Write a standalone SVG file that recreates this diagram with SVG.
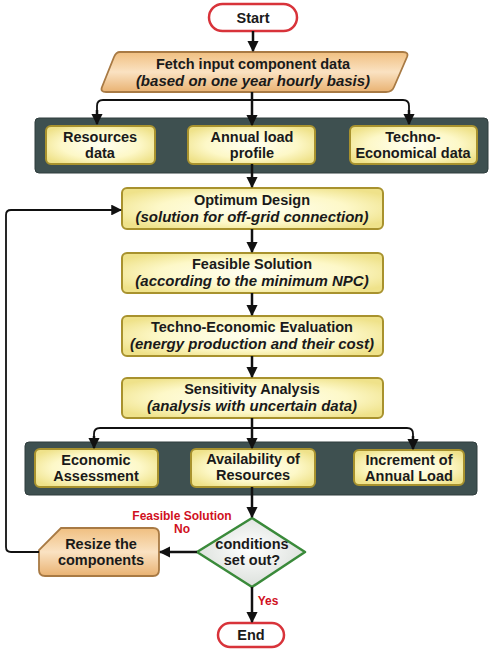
<svg xmlns="http://www.w3.org/2000/svg" width="491" height="651" viewBox="0 0 491 651">
<defs>
<radialGradient id="yel" cx="50%" cy="50%" r="60%">
<stop offset="0" stop-color="#fffff2"/><stop offset="0.6" stop-color="#fdf8c8"/><stop offset="1" stop-color="#efe28a"/>
</radialGradient>
<linearGradient id="org" x1="0" y1="0" x2="0" y2="1">
<stop offset="0" stop-color="#f0bf80"/><stop offset="0.5" stop-color="#fae2c2"/><stop offset="1" stop-color="#e9b272"/>
</linearGradient>
<radialGradient id="grn" cx="50%" cy="45%" r="60%">
<stop offset="0" stop-color="#ffffff"/><stop offset="1" stop-color="#d8ddd8"/>
</radialGradient>
<marker id="ah" viewBox="0 0 10 10" refX="9" refY="5" markerWidth="4.5" markerHeight="4.5" orient="auto" markerUnits="strokeWidth">
<path d="M0,0 L10,5 L0,10 z" fill="#111"/>
</marker>
<marker id="ahs" viewBox="0 0 10 10" refX="9" refY="5" markerWidth="6" markerHeight="6" orient="auto" markerUnits="strokeWidth">
<path d="M0,0 L10,5 L0,10 z" fill="#111"/>
</marker>
</defs>
<style>
.t{font-family:"Liberation Sans",Arial,sans-serif;font-weight:bold;font-size:14.5px;fill:#1a1a1a;text-anchor:middle}
.i{font-family:"Liberation Sans",Arial,sans-serif;font-weight:bold;font-style:italic;font-size:15px;fill:#1a1a1a;text-anchor:middle}
.r{font-family:"Liberation Sans",Arial,sans-serif;font-weight:bold;font-size:12px;fill:#d0101e;text-anchor:middle}
.box{fill:url(#yel);stroke:#a8922e;stroke-width:2}
.panel{fill:#3e5050;stroke:#2e3c3c;stroke-width:1}
.term{fill:#fff;stroke:#d8333a;stroke-width:2.5}
.c{fill:none;stroke:#111;stroke-width:2.5}
.cs{fill:none;stroke:#111;stroke-width:1.8}
</style>
<rect width="491" height="651" fill="#fff"/>

<g id="start"><rect class="term" x="209" y="4" width="88" height="27" rx="13.5"/><text class="t" x="253" y="23">Start</text></g>

<g id="fetch"><path d="M120,52 L403,52 Q409,52 407,57 L394,87 Q392,92 386,92 L106,92 Q100,92 102,87 L114,57 Q116,52 120,52 Z" fill="url(#org)" stroke="#a87a44" stroke-width="1.8"/>
<text class="t" x="253" y="69">Fetch input component data</text><text class="i" x="253" y="86">(based on one year hourly basis)</text></g>

<g id="panel1"><rect class="panel" x="35" y="118" width="453" height="55" rx="4"/></g>
<g id="resources"><rect class="box" x="46" y="126" width="109" height="38" rx="5"/><text class="t" x="100" y="142">Resources</text><text class="t" x="100" y="158">data</text></g>
<g id="annual"><rect class="box" x="188" y="126" width="127" height="38" rx="5"/><text class="t" x="252" y="142">Annual load</text><text class="t" x="252" y="158">profile</text></g>
<g id="techno"><rect class="box" x="350" y="126" width="127" height="38" rx="5"/><text class="t" x="413" y="142">Techno-</text><text class="t" x="413" y="158">Economical data</text></g>

<g id="optimum"><rect class="box" x="122" y="188" width="261" height="41" rx="5"/><text class="t" x="252" y="205">Optimum Design</text><text class="i" x="252" y="222">(solution for off-grid connection)</text></g>
<g id="feasible"><rect class="box" x="122" y="253" width="261" height="40" rx="5"/><text class="t" x="252" y="269">Feasible Solution</text><text class="i" x="252" y="286">(according to the minimum NPC)</text></g>
<g id="evaluation"><rect class="box" x="122" y="316" width="261" height="40" rx="5"/><text class="t" x="252" y="332">Techno-Economic Evaluation</text><text class="i" x="252" y="349">(energy production and their cost)</text></g>
<g id="sensitivity"><rect class="box" x="122" y="378" width="261" height="40" rx="5"/><text class="t" x="252" y="394">Sensitivity Analysis</text><text class="i" x="252" y="411">(analysis with uncertain data)</text></g>

<g id="panel2"><rect class="panel" x="25" y="442" width="452" height="53" rx="4"/></g>
<g id="economic"><rect class="box" x="35" y="449" width="123" height="38" rx="5"/><text class="t" x="96" y="465">Economic</text><text class="t" x="96" y="481">Assessment</text></g>
<g id="availability"><rect class="box" x="191" y="449" width="124" height="38" rx="5"/><text class="t" x="253" y="464">Availability of</text><text class="t" x="253" y="480">Resources</text></g>
<g id="increment"><rect class="box" x="354" y="450" width="110" height="35" rx="5"/><text class="t" x="409" y="465">Increment of</text><text class="t" x="409" y="481">Annual Load</text></g>

<g id="decision"><path d="M252,518 L305,552 L252,587 L197,552 Z" fill="url(#grn)" stroke="#3a8a3a" stroke-width="2.5" stroke-linejoin="round"/><text class="t" x="252" y="549">conditions</text><text class="t" x="252" y="565">set out?</text></g>

<g id="resize"><path d="M61,528 L153,528 Q159,528 159,534 L159,570 Q159,576 153,576 L45,576 Q39,576 39,570 L39,550 Z" fill="url(#org)" stroke="#a87a44" stroke-width="1.8"/><text class="t" x="101" y="549">Resize the</text><text class="t" x="101" y="565">components</text></g>

<g id="end"><rect class="term" x="218" y="623" width="66" height="24" rx="12"/><text class="t" x="251" y="640">End</text></g>

<g id="connectors">
<path class="c" d="M253,31 L253,51" marker-end="url(#ah)"/>
<path class="c" d="M252,92 L252,125" marker-end="url(#ah)"/>
<path class="cs" d="M97,124 L97,106 Q97,100 103,100 L403,100 Q409,100 409,106 L409,124" />
<path class="c" d="M97,110 L97,124" marker-end="url(#ah)"/>
<path class="c" d="M409,110 L409,124" marker-end="url(#ah)"/>
<path class="c" d="M252,164 L252,187" marker-end="url(#ah)"/>
<path class="c" d="M252,229 L252,252" marker-end="url(#ah)"/>
<path class="c" d="M252,293 L252,315" marker-end="url(#ah)"/>
<path class="c" d="M252,356 L252,377" marker-end="url(#ah)"/>
<path class="c" d="M252,418 L252,448" marker-end="url(#ah)"/>
<path class="cs" d="M94,446 L94,434 Q94,428 100,428 L407,428 Q413,428 413,434 L413,446"/>
<path class="c" d="M94,436 L94,448" marker-end="url(#ah)"/>
<path class="c" d="M413,436 L413,449" marker-end="url(#ah)"/>
<path class="c" d="M252,487 L252,517" marker-end="url(#ah)"/>
<path class="c" d="M197,552 L160,552" marker-end="url(#ah)"/>
<path class="c" d="M252,587 L252,622" marker-end="url(#ah)"/>
<path class="cs" d="M39,552 L11,552 Q6,552 6,547 L6,215 Q6,210 11,210 L121,210" marker-end="url(#ahs)"/>
</g>
<g id="labels">
<text class="r" x="182" y="520">Feasible Solution</text>
<text class="r" x="182" y="533">No</text>
<text class="r" x="268" y="605">Yes</text>
</g>
</svg>
